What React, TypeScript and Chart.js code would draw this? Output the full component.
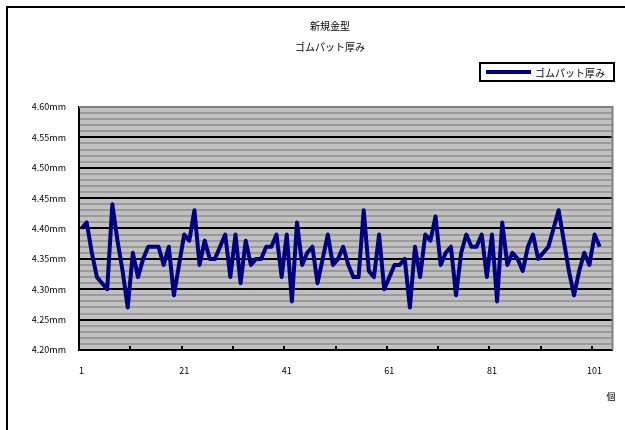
import { useEffect, useRef } from "react";
import { Chart, registerables } from "chart.js";

Chart.register(...registerables);

// Chart text
const titleLines = ["新規金型", "ゴムパット厚み"];
const seriesName = "ゴムパット厚み";
const xAxisTitle = "個";

// Sample numbers along the category axis (the axis runs two slots past the last sample)
const categoryCount = 104;
const categories = Array.from({ length: categoryCount }, (_, i) => String(i + 1));
const xLabelEvery = 20;
const xTickEvery = 10;

// Measured thickness of each pad, in mm
const thickness = [
  4.40, 4.41, 4.36, 4.32, 4.31, 4.30, 4.44, 4.38, 4.33, 4.27,
  4.36, 4.32, 4.35, 4.37, 4.37, 4.37, 4.34, 4.37, 4.29, 4.34,
  4.39, 4.38, 4.43, 4.34, 4.38, 4.35, 4.35, 4.37, 4.39, 4.32,
  4.39, 4.31, 4.38, 4.34, 4.35, 4.35, 4.37, 4.37, 4.39, 4.32,
  4.39, 4.28, 4.41, 4.34, 4.36, 4.37, 4.31, 4.35, 4.39, 4.34,
  4.35, 4.37, 4.34, 4.32, 4.32, 4.43, 4.33, 4.32, 4.39, 4.30,
  4.32, 4.34, 4.34, 4.35, 4.27, 4.37, 4.32, 4.39, 4.38, 4.42,
  4.34, 4.36, 4.37, 4.29, 4.36, 4.39, 4.37, 4.37, 4.39, 4.32,
  4.39, 4.28, 4.41, 4.34, 4.36, 4.35, 4.33, 4.37, 4.39, 4.35,
  4.36, 4.37, 4.40, 4.43, 4.38, 4.33, 4.29, 4.33, 4.36, 4.34,
  4.39, 4.37,
];

// Value axis range (mm)
const yMin = 4.2;
const yMax = 4.6;
const yMinorStep = 0.01;

const FONT = '"Noto Sans CJK JP", "Noto Sans", sans-serif';
const LINE_COLOR = "#000080";

const decorPlugin = {
  id: "decor",
  beforeDraw(chart: any) {
    const { ctx, chartArea: a } = chart;
    ctx.save();
    ctx.fillStyle = "#ffffff";
    ctx.fillRect(0, 0, chart.width, chart.height);
    ctx.fillStyle = "#c0c0c0";
    ctx.fillRect(a.left, a.top, a.right - a.left, a.bottom - a.top);
    ctx.restore();
  },
  beforeDatasetsDraw(chart: any) {
    const { ctx, chartArea: a } = chart;
    const xs = chart.scales.x;
    ctx.save();
    // plot frame: grey on top and right
    ctx.strokeStyle = "#808080";
    ctx.lineWidth = 2;
    ctx.beginPath();
    ctx.moveTo(a.left, a.top);
    ctx.lineTo(a.right, a.top);
    ctx.lineTo(a.right, a.bottom);
    ctx.stroke();
    // small inside tick marks between categories
    const w = (a.right - a.left) / categoryCount;
    ctx.strokeStyle = "#000000";
    ctx.lineWidth = 2;
    for (let k = xTickEvery; k < categoryCount; k += xTickEvery) {
      const x = Math.round(xs.left + k * w);
      ctx.beginPath();
      ctx.moveTo(x, a.bottom);
      ctx.lineTo(x, a.bottom - 4);
      ctx.stroke();
    }
    ctx.restore();
  },
  afterDraw(chart: any) {
    const { ctx } = chart;
    ctx.save();
    // outer frame
    ctx.strokeStyle = "#000000";
    ctx.lineWidth = 2;
    ctx.strokeRect(7, 7, 700, 500);

    // titles
    ctx.fillStyle = "#000000";
    ctx.textAlign = "center";
    ctx.textBaseline = "middle";
    ctx.font = `10px ${FONT}`;
    ctx.fillText(titleLines[0], 330, 26);
    ctx.fillText(titleLines[1], 330, 47);

    // legend box
    const lx = 480, ly = 63, lw = 134, lh = 18;
    ctx.fillStyle = "#ffffff";
    ctx.fillRect(lx, ly, lw, lh);
    ctx.strokeStyle = "#000000";
    ctx.lineWidth = 2;
    ctx.strokeRect(lx, ly, lw, lh);
    ctx.strokeStyle = LINE_COLOR;
    ctx.lineWidth = 4;
    ctx.beginPath();
    ctx.moveTo(lx + 6, ly + lh / 2);
    ctx.lineTo(lx + 51, ly + lh / 2);
    ctx.stroke();
    ctx.fillStyle = "#000000";
    ctx.textAlign = "left";
    ctx.font = `10px ${FONT}`;
    ctx.fillText(seriesName, lx + 55, ly + lh / 2 + 1);

    // category axis unit
    ctx.textAlign = "center";
    ctx.font = `9px ${FONT}`;
    ctx.fillText(xAxisTitle, 611, 397);
    ctx.restore();
  },
};

export default function App() {
  const canvasRef = useRef<HTMLCanvasElement | null>(null);

  useEffect(() => {
    const canvas = canvasRef.current;
    if (!canvas) return;
    const chart = new Chart(canvas, {
      type: "line",
      data: {
        labels: categories,
        datasets: [
          {
            label: seriesName,
            data: thickness,
            borderColor: LINE_COLOR,
            backgroundColor: LINE_COLOR,
            borderWidth: 4,
            pointRadius: 0,
            tension: 0,
            fill: false,
            borderJoinStyle: "round",
          },
        ],
      },
      options: {
        animation: false,
        responsive: false,
        devicePixelRatio: 1,
        layout: { padding: { left: 0, top: 107, right: 9, bottom: 0 } },
        plugins: {
          legend: { display: false },
          title: { display: false },
          tooltip: { enabled: false },
        },
        scales: {
          x: {
            type: "category",
            offset: true,
            grid: { display: false, drawTicks: false },
            border: { display: true, color: "#000000", width: 2 },
            ticks: {
              autoSkip: false,
              maxRotation: 0,
              padding: 15,
              color: "#000000",
              font: { family: FONT, size: 9 },
              callback: (_v: any, i: number) => (i % xLabelEvery === 0 ? categories[i] : ""),
            },
            afterFit: (s: any) => {
              s.height = 80;
            },
          },
          y: {
            type: "linear",
            min: yMin,
            max: yMax,
            grid: {
              drawTicks: false,
              lineWidth: 2,
              color: (c: any) => {
                const v = Math.round((c.tick?.value ?? 0) * 100);
                if (v === Math.round(yMax * 100)) return "#808080";
                return v % 5 === 0 ? "#000000" : "#9a9a9a";
              },
            },
            border: { display: true, color: "#000000", width: 2 },
            ticks: {
              stepSize: yMinorStep,
              autoSkip: false,
              padding: 13,
              color: "#000000",
              font: { family: FONT, size: 9 },
              callback: (v: any) => {
                const n = Math.round(Number(v) * 100);
                return n % 5 === 0 ? (n / 100).toFixed(2) + "mm" : "";
              },
            },
            afterFit: (s: any) => {
              s.width = 79;
            },
          },
        },
      },
      plugins: [decorPlugin],
    });
    return () => chart.destroy();
  }, []);

  return (
    <canvas
      ref={canvasRef}
      width={625}
      height={430}
      style={{ position: "fixed", left: 0, top: 0, width: 625, height: 430 }}
    />
  );
}
